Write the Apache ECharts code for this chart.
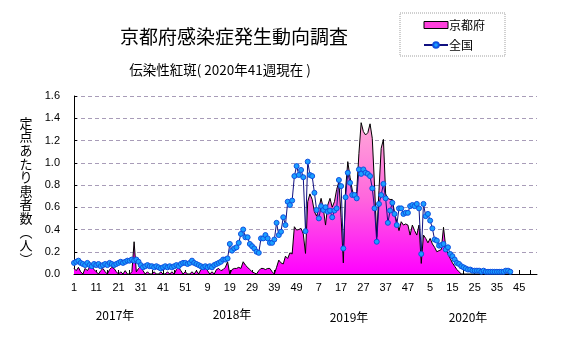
<!DOCTYPE html>
<html><head><meta charset="utf-8">
<script src="https://cdn.jsdelivr.net/npm/echarts@6/dist/echarts.min.js"></script>
<style>html,body{margin:0;padding:0;background:#fff}#c{width:567px;height:339px}</style>
</head><body><div id="c"></div>
<script>
// weeks per year 2017..2020
const years = ['2017年', '2018年', '2019年', '2020年'];
const weeksPerYear = [52, 52, 52, 53];
const yTicks = [0, 0.2, 0.4, 0.6, 0.8, 1.0, 1.2, 1.4, 1.6];

// 京都府 (per sentinel)
const kyoto2017 = [0.05,0.03,0.06,0.02,0.00,0.05,0.03,0.06,0.07,0.04,
  0.02,0.00,0.03,0.05,0.02,0.00,0.04,0.06,0.05,0.02,
  0.00,0.02,0.00,0.03,0.00,0.00,0.02,0.29,0.02,0.05,
  0.07,0.03,0.00,0.02,0.00,0.00,0.02,0.00,0.00,0.02,
  0.00,0.00,0.02,0.00,0.02,0.00,0.04,0.06,0.03,0.00,
  0.02,0.00];
const kyoto2018 = [0.00,0.02,0.00,0.03,0.00,0.04,0.05,0.06,0.03,0.00,
  0.02,0.00,0.04,0.05,0.03,0.04,0.06,0.11,0.00,0.04,
  0.05,0.05,0.06,0.05,0.11,0.08,0.06,0.04,0.02,0.01,
  0.00,0.03,0.05,0.05,0.04,0.05,0.05,0.02,0.00,0.06,
  0.125,0.10,0.09,0.16,0.14,0.19,0.18,0.425,0.395,0.40,
  0.41,0.36];
const kyoto2019 = [0.185,0.65,0.72,0.67,0.56,0.52,0.59,0.68,0.59,0.44,
  0.62,0.68,0.60,0.65,0.76,0.83,0.51,0.10,0.755,1.01,
  0.87,0.755,0.69,0.74,1.085,1.36,1.28,1.25,1.27,1.35,
  1.22,0.80,0.335,0.75,1.13,1.21,0.72,0.68,0.67,0.67,
  0.55,0.47,0.39,0.47,0.44,0.45,0.44,0.35,0.44,0.39,
  0.35,0.44];
const kyoto2020 = [0.095,0.35,0.32,0.28,0.32,0.27,0.24,0.20,0.21,0.22,
  0.42,0.24,0.18,0.14,0.10,0.07,0.04,0.02,0.00,0.00,
  0,0,0,0,0,0,0,0,0,0,
  0,0,0,0,0,0,0,0,0,0,0];

// 全国
const national2017 = [0.10,0.11,0.12,0.10,0.09,0.08,0.10,0.08,0.07,0.09,
  0.08,0.09,0.07,0.08,0.09,0.08,0.10,0.09,0.08,0.09,
  0.10,0.11,0.10,0.11,0.12,0.12,0.13,0.12,0.13,0.11,
  0.08,0.06,0.07,0.08,0.07,0.07,0.06,0.07,0.06,0.05,
  0.06,0.07,0.06,0.07,0.06,0.07,0.08,0.07,0.09,0.10,
  0.10,0.09];
const national2018 = [0.10,0.12,0.10,0.09,0.08,0.07,0.06,0.07,0.06,0.07,
  0.06,0.08,0.09,0.10,0.11,0.13,0.13,0.14,0.27,0.21,
  0.23,0.24,0.28,0.36,0.40,0.33,0.33,0.27,0.25,0.23,
  0.20,0.19,0.32,0.32,0.35,0.32,0.28,0.28,0.31,0.46,
  0.35,0.38,0.51,0.44,0.65,0.62,0.66,0.88,0.97,0.89,
  0.935,0.87];
const national2019 = [0.385,1.01,0.89,0.88,0.73,0.575,0.50,0.61,0.575,0.60,
  0.56,0.57,0.51,0.57,0.59,0.845,0.79,0.23,0.69,0.91,
  0.82,0.71,0.71,0.68,0.94,0.90,0.94,0.91,0.90,0.88,
  0.77,0.59,0.29,0.63,0.71,0.81,0.68,0.46,0.57,0.64,
  0.54,0.44,0.59,0.59,0.54,0.55,0.55,0.61,0.62,0.61,
  0.63,0.59];
const national2020 = [0.18,0.63,0.52,0.54,0.48,0.41,0.31,0.30,0.255,0.26,
  0.27,0.22,0.24,0.18,0.16,0.13,0.10,0.09,0.07,0.06,
  0.05,0.04,0.04,0.03,0.03,0.03,0.03,0.02,0.03,0.02,
  0.02,0.02,0.02,0.02,0.02,0.02,0.02,0.02,0.03,0.03,0.02];

// build category axis (week numbers)
const categories = [];
weeksPerYear.forEach(n => { for (let w = 1; w <= n; w++) categories.push(String(w)); });
const kyoto = [].concat(kyoto2017, kyoto2018, kyoto2019, kyoto2020);
const national = [].concat(national2017, national2018, national2019, national2020);

const FONT = '"Noto Sans CJK JP", sans-serif';
const chart = echarts.init(document.getElementById('c'), null, {renderer: 'canvas'});

const yearX = [115, 232, 349, 468];
const yearY = [315, 314, 317, 317];

chart.setOption({
  animation: false,
  backgroundColor: '#fff',
  textStyle: {fontFamily: FONT},
  grid: {left: 74, right: 30, top: 96, bottom: 65, containLabel: false},
  legend: {
    left: 400, top: 13, orient: 'vertical',
    padding: [4, 20, 3, 23], itemGap: 4, itemWidth: 24, itemHeight: 7,
    borderColor: '#a0a0a0', borderWidth: 1, borderType: 'dotted',
    textStyle: {fontSize: 12, color: '#000', fontFamily: FONT, padding: [0, 0, 0, -4], lineHeight: 16},
    data: [
      {name: '京都府', icon: 'rect', itemStyle: {color: '#ff40dd', borderColor: '#000', borderWidth: 1}},
      {name: '全国'}
    ]
  },
  graphic: [
    {type: 'text', x: 234, y: 37, style: {text: '京都府感染症発生動向調査', fontSize: 19, fontFamily: FONT, fill: '#000', textAlign: 'center', textVerticalAlign: 'middle'}},
    {type: 'text', x: 220, y: 70, style: {text: '伝染性紅斑( 2020年41週現在 )', fontSize: 13.5, fontFamily: FONT, fill: '#000', textAlign: 'center', textVerticalAlign: 'middle'}},
    {type: 'text', x: 26, y: 116, style: {text: '定\n点\nあ\nた\nり\n患\n者\n数\n︵\n人\n︶', fontSize: 13, lineHeight: 13.6, fontFamily: FONT, fill: '#000', textAlign: 'center', textVerticalAlign: 'top'}}
  ].concat(years.map((t, k) => ({type: 'text', x: yearX[k], y: yearY[k], style: {text: t, fontSize: 12, fontFamily: FONT, fill: '#000', textAlign: 'center', textVerticalAlign: 'middle'}}))),
  xAxis: {
    type: 'category', data: categories, boundaryGap: false,
    axisLine: {lineStyle: {color: '#000', width: 1}},
    axisTick: {show: true, inside: true, length: 4, interval: 4, lineStyle: {color: '#000'}},
    axisLabel: {interval: 9, color: '#000', fontSize: 11, margin: 8, fontFamily: 'Liberation Sans'},
    splitLine: {show: false}
  },
  yAxis: {
    type: 'value', min: yTicks[0], max: yTicks[yTicks.length - 1], interval: 0.2,
    axisLine: {show: true, lineStyle: {color: '#000', width: 1}},
    axisTick: {show: true, inside: true, length: 3, lineStyle: {color: '#000'}},
    axisLabel: {color: '#000', fontSize: 11, margin: 14, fontFamily: 'Liberation Sans', formatter: v => v.toFixed(1)},
    splitLine: {show: true, lineStyle: {color: '#a89cb8', type: [4, 3], width: 1}}
  },
  series: [
    {
      name: '京都府', type: 'line', data: kyoto, symbol: 'none', z: 2,
      lineStyle: {color: '#000', width: 1},
      itemStyle: {color: '#ff40dd'},
      areaStyle: {opacity: 1, color: new echarts.graphic.LinearGradient(0, 0, 0, 1, [
        {offset: 0, color: '#ffa8d8'}, {offset: 0.5, color: '#ff66dd'}, {offset: 1, color: '#ff00ff'}])}
    },
    {
      name: '全国', type: 'line', data: national, symbol: 'circle', symbolSize: 5, z: 3,
      showAllSymbol: true,
      lineStyle: {color: '#101080', width: 1},
      itemStyle: {color: '#1aa0ff', borderColor: '#1050e0', borderWidth: 1}
    }
  ]
});
</script></body></html>
